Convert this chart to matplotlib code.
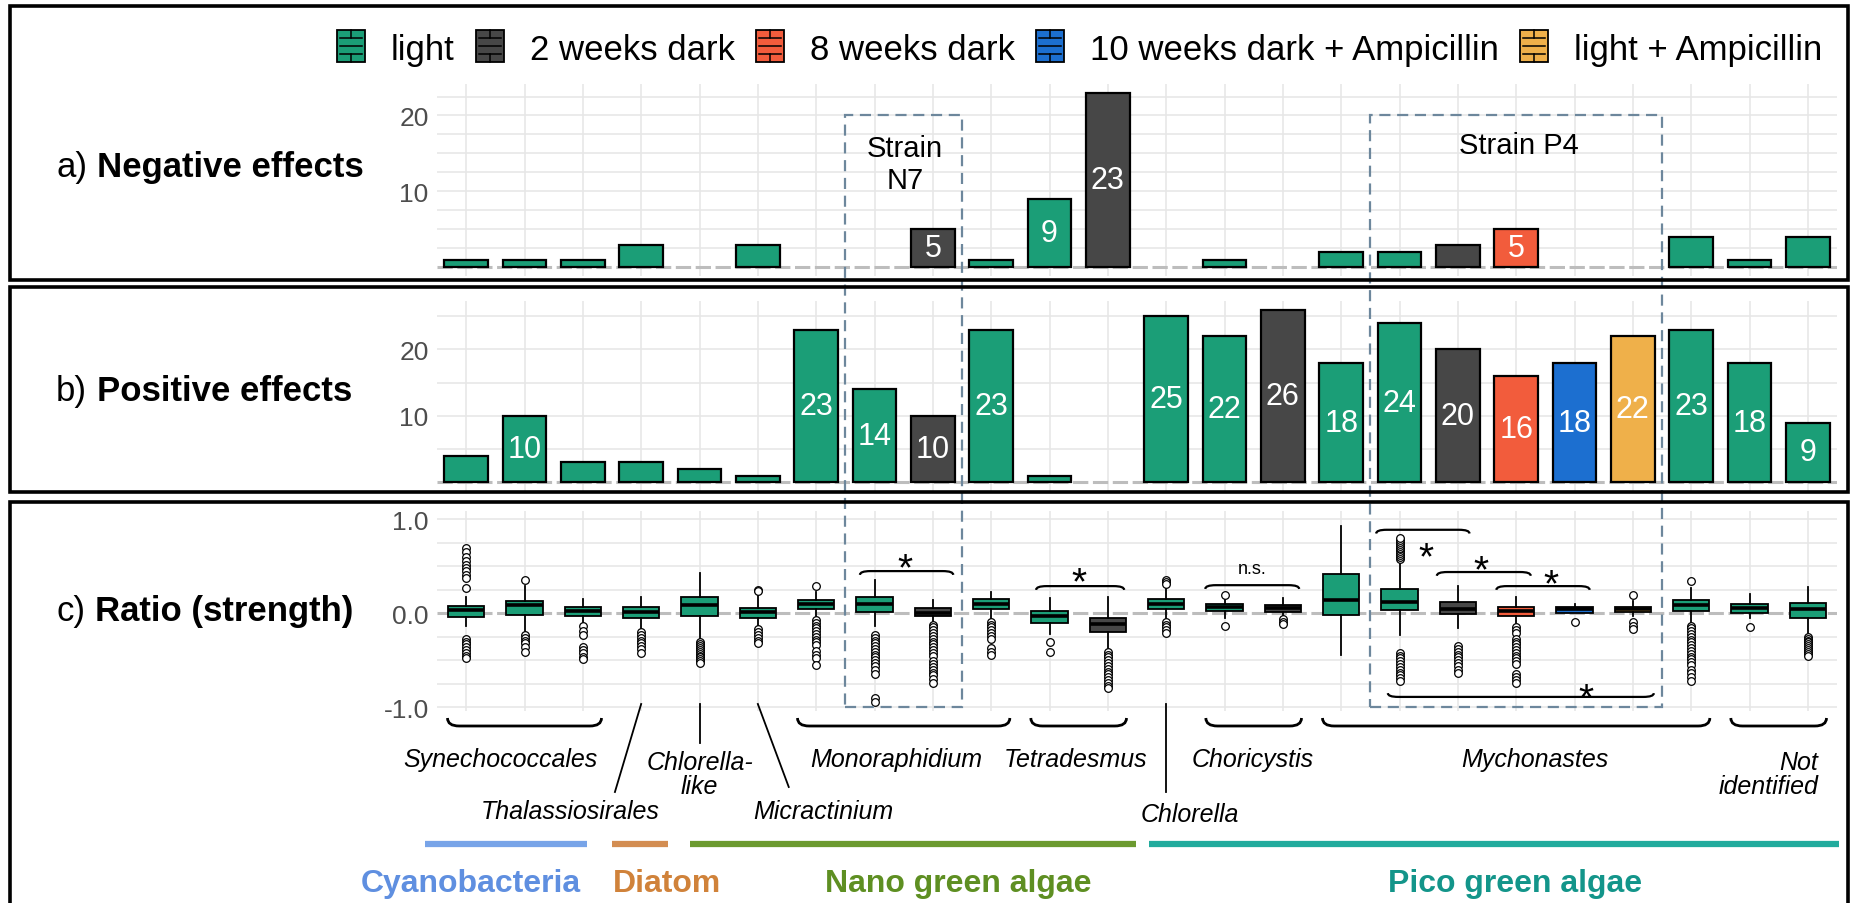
import matplotlib
matplotlib.use("Agg")
import matplotlib.pyplot as plt
import matplotlib.transforms as mtransforms
from matplotlib.patches import Rectangle, PathPatch
from matplotlib.path import Path
from matplotlib.lines import Line2D

plt.rcParams['font.family'] = ['Liberation Sans', 'DejaVu Sans']

# ---------------- data ----------------
condition_names = ["light", "2 weeks dark", "8 weeks dark",
                   "10 weeks dark + Ampicillin", "light + Ampicillin"]
condition_colors = ["#1b9e77", "#474747", "#f25c3c", "#1c6fd0", "#efb04a"]

sample_condition = [0, 0, 0, 0, 0, 0, 0, 0, 1, 0, 0, 1,
                    0, 0, 1, 0, 0, 1, 2, 3, 4, 0, 0, 0]
negative_counts = [1, 1, 1, 3, 0, 3, 0, 0, 5, 1, 9, 23,
                   0, 1, 0, 2, 2, 3, 5, 0, 0, 4, 1, 4]
positive_counts = [4, 10, 3, 3, 2, 1, 23, 14, 10, 23, 1, 0,
                   25, 22, 26, 18, 24, 20, 16, 18, 22, 23, 18, 9]

ratio_q1 = [-0.036, -0.02, -0.025, -0.047, -0.025, -0.054, 0.043, 0.01,
            -0.025, 0.043, -0.107, -0.20, 0.047, 0.025, 0.018, -0.018,
            0.04, -0.01, -0.03, 0.007, 0.01, 0.025, 0.007, -0.054]
ratio_median = [0.036, 0.09, 0.025, 0.018, 0.09, 0.01, 0.097, 0.097,
                0.005, 0.097, -0.025, -0.11, 0.10, 0.065, 0.054, 0.14,
                0.12, 0.05, 0.02, 0.043, 0.047, 0.09, 0.054, 0.043]
ratio_q3 = [0.079, 0.13, 0.065, 0.065, 0.17, 0.06, 0.14, 0.17,
            0.054, 0.15, 0.025, -0.047, 0.15, 0.10, 0.09, 0.42,
            0.26, 0.12, 0.065, 0.068, 0.07, 0.14, 0.10, 0.11]
ratio_whislo = [-0.14, -0.20, -0.11, -0.16, -0.28, -0.14, -0.05, -0.14,
                -0.09, -0.07, -0.22, -0.38, -0.06, -0.05, -0.036, -0.44,
                -0.23, -0.16, -0.13, 0.0, -0.03, -0.11, -0.05, -0.23]
ratio_whishi = [0.17, 0.29, 0.15, 0.17, 0.43, 0.22, 0.23, 0.35,
                0.14, 0.23, 0.16, 0.17, 0.27, 0.16, 0.16, 0.93,
                0.56, 0.29, 0.17, 0.104, 0.13, 0.27, 0.21, 0.28]
ratio_fliers = [
    [0.70, 0.65, 0.60, 0.56, 0.52, 0.48, 0.45, 0.41, 0.38, 0.27,
     -0.27, -0.30, -0.33, -0.36, -0.39, -0.42, -0.45, -0.48],
    [0.35, -0.23, -0.26, -0.29, -0.32, -0.36, -0.41],
    [-0.14, -0.19, -0.23, -0.36, -0.39, -0.42, -0.46, -0.49],
    [-0.20, -0.23, -0.26, -0.29, -0.32, -0.35, -0.38, -0.42],
    [-0.31, -0.33, -0.35, -0.37, -0.39, -0.41, -0.43, -0.45, -0.47,
     -0.49, -0.51, -0.53],
    [0.25, 0.24, -0.17, -0.20, -0.23, -0.26, -0.29, -0.32],
    [0.29, -0.07, -0.10, -0.13, -0.16, -0.19, -0.22, -0.25, -0.28,
     -0.31, -0.34, -0.40, -0.44, -0.48, -0.55],
    [-0.23, -0.26, -0.29, -0.32, -0.35, -0.38, -0.41, -0.44, -0.47,
     -0.50, -0.53, -0.56, -0.60, -0.65, -0.90, -0.94],
    [-0.12, -0.15, -0.18, -0.21, -0.24, -0.27, -0.30, -0.33, -0.36,
     -0.39, -0.42, -0.45, -0.51, -0.54, -0.57, -0.60, -0.63, -0.66,
     -0.70, -0.74],
    [-0.09, -0.12, -0.15, -0.18, -0.21, -0.24, -0.27, -0.37, -0.41, -0.44],
    [-0.31, -0.41],
    [-0.41, -0.44, -0.47, -0.50, -0.53, -0.56, -0.59, -0.62, -0.65,
     -0.68, -0.71, -0.74, -0.77, -0.80],
    [0.36, 0.33, 0.31, -0.09, -0.12, -0.15, -0.18, -0.21],
    [0.20, -0.13],
    [-0.065, -0.09, -0.11],
    [],
    [0.58, 0.60, 0.62, 0.64, 0.66, 0.68, 0.70, 0.72, 0.74, 0.76, 0.78,
     0.80, -0.42, -0.45, -0.48, -0.51, -0.54, -0.57, -0.60, -0.63,
     -0.66, -0.69, -0.72],
    [-0.35, -0.38, -0.41, -0.44, -0.47, -0.50, -0.53, -0.56, -0.60, -0.63],
    [-0.15, -0.18, -0.21, -0.27, -0.30, -0.33, -0.36, -0.39, -0.42,
     -0.45, -0.48, -0.51, -0.54, -0.65, -0.68, -0.71, -0.74],
    [-0.09],
    [0.20, -0.09, -0.13, -0.17],
    [0.34, -0.13, -0.16, -0.19, -0.22, -0.25, -0.28, -0.31, -0.34,
     -0.37, -0.40, -0.43, -0.46, -0.49, -0.52, -0.55, -0.60, -0.64,
     -0.68, -0.72],
    [-0.15],
    [-0.25, -0.27, -0.29, -0.31, -0.33, -0.35, -0.37, -0.39, -0.41,
     -0.43, -0.45],
]

count_ticks = [10, 20]
ratio_ticks = [-1.0, 0.0, 1.0]
ratio_tick_labels = ["-1.0", "0.0", "1.0"]

panel_letters = ["a)", "b)", "c)"]
panel_titles = ["Negative effects", "Positive effects", "Ratio (strength)"]

taxa_brace_names = ["Synechococcales", "Monoraphidium", "Tetradesmus",
                    "Choricystis", "Mychonastes", "Not\nidentified"]
taxa_brace_spans = [(0, 2), (6, 9), (10, 11), (13, 14), (15, 21), (22, 23)]
taxa_single_names = ["Thalassiosirales", "Chlorella-\nlike", "Micractinium",
                     "Chlorella"]
taxa_single_index = [3, 4, 5, 12]

algal_groups = ["Cyanobacteria", "Diatom", "Nano green algae",
                "Pico green algae"]
algal_text_colors = ["#5f8fe0", "#d0823a", "#5e8f22", "#13958a"]
algal_line_colors = ["#78a4e8", "#d38d52", "#6c9a30", "#22ab9d"]

strain_names = ["Strain\nN7", "Strain P4"]
strain_spans = [(7, 8), (16, 20)]

# ---------------- layout ----------------
W, H = 1852, 904
fig = plt.figure(figsize=(W / 100, H / 100), dpi=100)
renderer = fig.canvas.get_renderer()


def fx(p):
    return p / W


def fy(p):
    return 1 - p / H


def ax_rect(l, r, t, b):
    return [fx(l), fy(b), (r - l) / W, (b - t) / H]


axA = fig.add_axes(ax_rect(437, 1837, 85, 277))
axB = fig.add_axes(ax_rect(437, 1837, 302, 492))
axC = fig.add_axes(ax_rect(437, 1837, 512, 712))

n = len(positive_counts)
xs = list(range(n))
grid_col = "#e6e6e6"
zero_col = "#bdbdbd"

for ax in (axA, axB, axC):
    ax.set_xlim(-0.5, n - 0.5)
    for s in ax.spines.values():
        s.set_visible(False)
    ax.tick_params(axis='y', length=0, pad=6, labelsize=19,
                   labelcolor='#4d4d4d')
    ax.patch.set_alpha(0)
    for i in xs:
        ax.axvline(i, color=grid_col, lw=1.1, zorder=0)

axA.set_ylim(-1.15, 24.15)
axB.set_ylim(-1.3, 27.3)
axC.set_ylim(-1.04, 1.09)
for v in [2.5, 5, 7.5, 10, 12.5, 15, 17.5, 20, 22.5]:
    axA.axhline(v, color=grid_col, lw=1.1, zorder=0)
for v in [5, 10, 15, 20, 25]:
    axB.axhline(v, color=grid_col, lw=1.1, zorder=0)
for v in [-1.0, -0.75, -0.5, -0.25, 0.25, 0.5, 0.75, 1.0]:
    axC.axhline(v, color=grid_col, lw=1.1, zorder=0)
for ax in (axA, axB, axC):
    ax.axhline(0, color=zero_col, lw=2.2, ls=(0, (5, 1.5)), zorder=1)

axA.set_yticks(count_ticks)
axB.set_yticks(count_ticks)
axC.set_yticks(ratio_ticks)
axC.set_yticklabels(ratio_tick_labels)


def draw_bars(ax, counts):
    for i, v in enumerate(counts):
        if v > 0:
            ax.bar(i, v, width=0.75,
                   color=condition_colors[sample_condition[i]],
                   edgecolor='black', linewidth=1.6, zorder=3)
            if v >= 5:
                ax.text(i, v / 2, str(v), color='white', fontsize=22,
                        ha='center', va='center', zorder=4)


draw_bars(axA, negative_counts)
draw_bars(axB, positive_counts)

# box plots
stats = []
for i in xs:
    stats.append(dict(med=ratio_median[i], q1=ratio_q1[i], q3=ratio_q3[i],
                      whislo=ratio_whislo[i], whishi=ratio_whishi[i],
                      fliers=ratio_fliers[i]))
bp = axC.bxp(stats, positions=xs, widths=0.62, patch_artist=True,
             showcaps=False, manage_ticks=False,
             boxprops=dict(edgecolor='black', linewidth=1.3),
             medianprops=dict(color='black', linewidth=2.6),
             whiskerprops=dict(color='black', linewidth=1.3),
             flierprops=dict(marker='o', markersize=5.5,
                             markerfacecolor='white',
                             markeredgecolor='black',
                             markeredgewidth=0.9),
             zorder=3)
for patch, c in zip(bp['boxes'], sample_condition):
    patch.set_facecolor(condition_colors[c])

for ax in (axA, axB, axC):
    ax.set_xticks([])
    ax.set_xlim(-0.5, n - 0.5)

# ---------------- annotations ----------------
inv = fig.transFigure.inverted()


def to_fig(ax, x, y):
    return inv.transform(ax.transData.transform((x, y)))


# strain dashed boxes
strain_col = "#6d879c"
for (a, b) in strain_spans:
    p0 = to_fig(axC, a - 0.5, -1.0)
    p1 = to_fig(axA, b + 0.5, 20)
    fig.add_artist(Rectangle((p0[0], p0[1]), p1[0] - p0[0], p1[1] - p0[1],
                             transform=fig.transFigure, fill=False,
                             edgecolor=strain_col, lw=1.6,
                             ls=(0, (5, 3)), zorder=5))
axA.text(7.52, 13.6, strain_names[0], ha='center', va='center',
         fontsize=21, zorder=6)
axA.text(18.05, 16.1, strain_names[1], ha='center', va='center',
         fontsize=21, zorder=6)


def bracket(transform, x0, x1, y_line, y_end, r, lw=1.6):
    verts = [(x0, y_end), (x0, y_line), (x0 + r, y_line),
             (x1 - r, y_line), (x1, y_line), (x1, y_end)]
    codes = [Path.MOVETO, Path.CURVE3, Path.CURVE3, Path.LINETO,
             Path.CURVE3, Path.CURVE3]
    fig.add_artist(PathPatch(Path(verts, codes), transform=transform,
                             fill=False, edgecolor='black', lw=lw,
                             zorder=6))


# significance brackets (panel c)
sig_brackets = [(6.75, 8.35, 0.45, 0.41), (9.77, 11.28, 0.29, 0.25),
                (12.67, 14.28, 0.30, 0.26), (15.6, 17.2, 0.89, 0.85),
                (16.64, 18.25, 0.44, 0.40), (17.66, 19.26, 0.29, 0.25),
                (15.8, 20.36, -0.89, -0.85)]
for (x0, x1, yl, ye) in sig_brackets:
    bracket(axC.transData, x0, x1, yl, ye, 0.18)
star_pos = [(7.52, 0.60), (10.5, 0.45), (16.45, 0.72), (17.4, 0.58),
            (18.6, 0.43), (19.2, -0.78)]
for (sx, sy) in star_pos:
    axC.text(sx, sy - 0.24, "*", ha='center', va='baseline', fontsize=28,
             zorder=7, clip_on=False)
axC.text(13.47, 0.48, "n.s.", ha='center', va='center', fontsize=13,
         zorder=7)

# taxa braces and labels below panel c
blend = mtransforms.blended_transform_factory(axC.transData, fig.transFigure)
for name, (a, b) in zip(taxa_brace_names, taxa_brace_spans):
    bracket(blend, a - 0.32, b + 0.32, fy(727), fy(719), 0.2, lw=2.0)
brace_label_pos = [(0.58, 760, 'center'), (7.37, 760, 'center'),
                   (10.45, 760, 'center'), (13.49, 760, 'center'),
                   (18.32, 760, 'center'), (23.18, 775, 'right')]
for name, (lx, ly, ha) in zip(taxa_brace_names, brace_label_pos):
    fig.text(lx, fy(ly), name, transform=blend, fontsize=18,
             style='italic', ha=ha, va='center', multialignment=ha,
             linespacing=1.05)

single_lines = [((3, 705), (2.55, 793)), ((4, 705), (4, 744)),
                ((5, 705), (5.53, 788)), ((12, 705), (12, 793))]
single_label_pos = [(1.78, 812), (4.0, 775), (6.12, 812), (12.4, 815)]
for name, ((x0, y0), (x1, y1)), (lx, ly) in zip(taxa_single_names,
                                                 single_lines,
                                                 single_label_pos):
    fig.add_artist(Line2D([x0, x1], [fy(y0), fy(y1)], transform=blend,
                          color='black', lw=1.3))
    fig.text(lx, fy(ly), name, transform=blend, fontsize=18,
             style='italic', ha='center', va='center',
             multialignment='center', linespacing=1.05)

# algal group lines and labels
group_line_spans = [(-0.7, 2.07), (2.5, 3.46), (3.84, 11.48), (11.7, 23.53)]
group_label_x = [0.08, 3.44, 8.43, 17.98]
for name, (a, b), lxp, tc, lc in zip(algal_groups, group_line_spans,
                                     group_label_x, algal_text_colors,
                                     algal_line_colors):
    fig.add_artist(Line2D([a, b], [fy(845), fy(845)], transform=blend,
                          color=lc, lw=4.5, solid_capstyle='butt'))
    fig.text(lxp, fy(884), name, transform=blend, fontsize=23,
             fontweight='bold', color=tc, ha='center', va='center')

# panel titles (left)
space_px = 0.278 * 25 * 100 / 72
baselines = [177, 401, 621]
for letter, title, cy in zip(panel_letters, panel_titles, baselines):
    t = fig.text(fx(56), fy(cy), letter, fontsize=25, ha='left',
                 va='baseline')
    bb = t.get_window_extent(renderer)
    fig.text(fx(56 + bb.width + space_px), fy(cy), title, fontsize=25,
             fontweight='bold', ha='left', va='baseline')

# legend (top)
x_cur = 337
key_w, key_h, key_top = 28, 32, 31
for name, col in zip(condition_names, condition_colors):
    fig.add_artist(Rectangle((fx(x_cur), fy(key_top + key_h)),
                             key_w / W, key_h / H,
                             transform=fig.transFigure, facecolor=col,
                             edgecolor='black', lw=1.3))
    cx = x_cur + key_w / 2
    for frac in (0.25, 0.5, 0.75):
        yy = key_top + key_h * frac
        fig.add_artist(Line2D([fx(x_cur + 3), fx(x_cur + key_w - 3)],
                              [fy(yy), fy(yy)], transform=fig.transFigure,
                              color='black', lw=1.1))
    for (ya, yb) in ((key_top, key_top + key_h * 0.25),
                     (key_top + key_h * 0.75, key_top + key_h)):
        fig.add_artist(Line2D([fx(cx), fx(cx)], [fy(ya), fy(yb)],
                              transform=fig.transFigure, color='black',
                              lw=1.1))
    t = fig.text(fx(x_cur + key_w + 26), fy(60), name, fontsize=25,
                 ha='left', va='baseline')
    bb = t.get_window_extent(renderer)
    x_cur = x_cur + key_w + 26 + bb.width + 21

# panel borders
for (t, b) in [(7, 281), (288, 493), (503, 910)]:
    fig.add_artist(Rectangle((fx(10), fy(b)), (1848 - 10) / W, (b - t) / H,
                             transform=fig.transFigure, fill=False,
                             edgecolor='black', lw=2.6, zorder=8))

fig.savefig("out.png", dpi=100)
